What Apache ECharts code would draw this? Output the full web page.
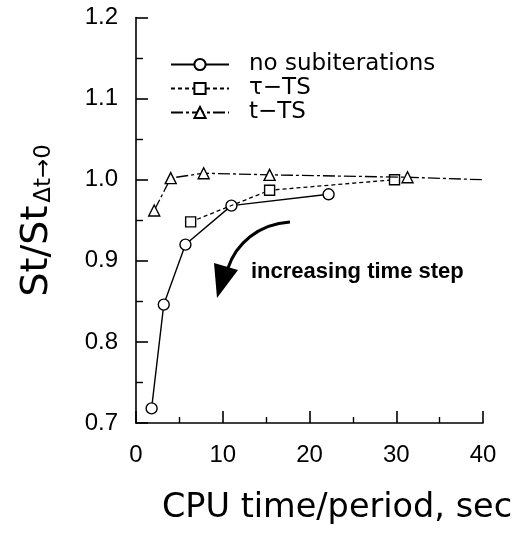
<!DOCTYPE html>
<html>
<head>
<meta charset="utf-8">
<script src="https://cdn.jsdelivr.net/npm/echarts@6/dist/echarts.min.js"></script>
<style>html,body{margin:0;padding:0;background:#fff}#c{width:524px;height:537px}</style>
</head>
<body>
<div id="c"></div>
<script>
// ---- data ----
const seriesNames = ['no subiterations', 'τ−TS', 't−TS'];
const noSubX = [1.8, 3.2, 5.7, 11.0, 22.2];
const noSubY = [0.718, 0.846, 0.920, 0.968, 0.982];
const tauX = [6.3, 15.4, 29.8];
const tauY = [0.948, 0.987, 1.000];
const tTsX = [2.1, 4.0, 7.8, 15.4, 31.3];
const tTsY = [0.962, 1.002, 1.008, 1.006, 1.003];
const tTsTailX = [40];
const tTsTailY = [1.000];
const xTicks = [0, 10, 20, 30, 40];
const yTicks = [0.7, 0.8, 0.9, 1.0, 1.1, 1.2];

function pairs(xs, ys) { return xs.map((x, i) => [x, ys[i]]); }

const chart = echarts.init(document.getElementById('c'), null, {renderer: 'canvas'});
const black = '#000';
const markStyle = {color: '#fff', borderColor: black, borderWidth: 1.4};

const tData = pairs(tTsX, tTsY).concat(
  pairs(tTsTailX, tTsTailY).map(p => ({value: p, symbol: 'none'}))
);

chart.setOption({
  animation: false,
  backgroundColor: '#fff',
  grid: {left: 136, right: 41, top: 17.5, bottom: 114},
  legend: {
    orient: 'vertical',
    left: 165, top: 48,
    itemWidth: 58, itemHeight: 14, itemGap: 1,
    data: seriesNames,
    textStyle: {fontFamily: 'DejaVu Sans', fontSize: 23, color: black, lineHeight: 22, padding: [0, 0, 0, 15]}
  },
  xAxis: {
    type: 'value', min: xTicks[0], max: xTicks[xTicks.length - 1], interval: 10,
    axisLine: {lineStyle: {color: black, width: 1.6}},
    axisTick: {inside: true, length: 12, lineStyle: {color: black, width: 1.6}},
    minorTick: {show: true, splitNumber: 2, length: 6, lineStyle: {color: black, width: 1.4}},
    splitLine: {show: false},
    axisLabel: {color: black, fontFamily: 'Liberation Sans', fontSize: 24, margin: 20},
    name: 'CPU time/period, sec', nameLocation: 'middle', nameGap: 68,
    nameTextStyle: {fontFamily: 'DejaVu Sans', fontSize: 33.5, color: black, padding: [0, 0, 0, 55]}
  },
  yAxis: {
    type: 'value', min: yTicks[0], max: yTicks[yTicks.length - 1], interval: 0.1,
    axisLine: {lineStyle: {color: black, width: 1.6}},
    axisTick: {inside: true, length: 12, lineStyle: {color: black, width: 1.6}},
    minorTick: {show: true, splitNumber: 2, length: 7, lineStyle: {color: black, width: 1.4}},
    splitLine: {show: false},
    axisLabel: {color: black, fontFamily: 'Liberation Sans', fontSize: 24, margin: 18,
      formatter: v => v.toFixed(1)},
    name: '{a|St/St}{b|Δt→0}', nameLocation: 'middle', nameGap: 80, nameRotate: 90,
    nameTextStyle: {
      color: black,
      rich: {
        a: {fontFamily: 'DejaVu Sans', fontSize: 38, lineHeight: 38, verticalAlign: 'top', color: black},
        b: {fontFamily: 'DejaVu Sans', fontSize: 23, lineHeight: 23, padding: [24, 0, 0, 3], verticalAlign: 'bottom', color: black}
      }
    }
  },
  series: [
    {
      name: seriesNames[0], type: 'line', data: pairs(noSubX, noSubY),
      symbol: 'circle', symbolSize: 11, showAllSymbol: true,
      lineStyle: {color: black, width: 1.4, type: 'solid'},
      itemStyle: markStyle, z: 3
    },
    {
      name: seriesNames[1], type: 'line', data: pairs(tauX, tauY),
      symbol: 'rect', symbolSize: 10, showAllSymbol: true,
      lineStyle: {color: black, width: 1.3, type: [4, 3]},
      itemStyle: markStyle, z: 4
    },
    {
      name: seriesNames[2], type: 'line', data: tData,
      symbol: 'triangle', symbolSize: 11, showAllSymbol: true,
      lineStyle: {color: black, width: 1.3, type: [12, 3, 3, 3]},
      itemStyle: markStyle, z: 5
    }
  ],
  graphic: [
    {
      type: 'bezierCurve',
      shape: {x1: 290, y1: 222, cpx1: 258, cpy1: 224, cpx2: 236, cpy2: 244, x2: 228, y2: 268},
      style: {stroke: black, lineWidth: 3, fill: null}
    },
    {
      type: 'polygon',
      shape: {points: [[214, 263], [238, 270], [217, 298]]},
      style: {fill: black}
    },
    {
      type: 'text', left: 251, top: 261,
      style: {text: 'increasing time step', fontFamily: 'Liberation Sans', fontWeight: 'bold', fontSize: 22, fill: black}
    }
  ]
});
</script>
</body>
</html>
